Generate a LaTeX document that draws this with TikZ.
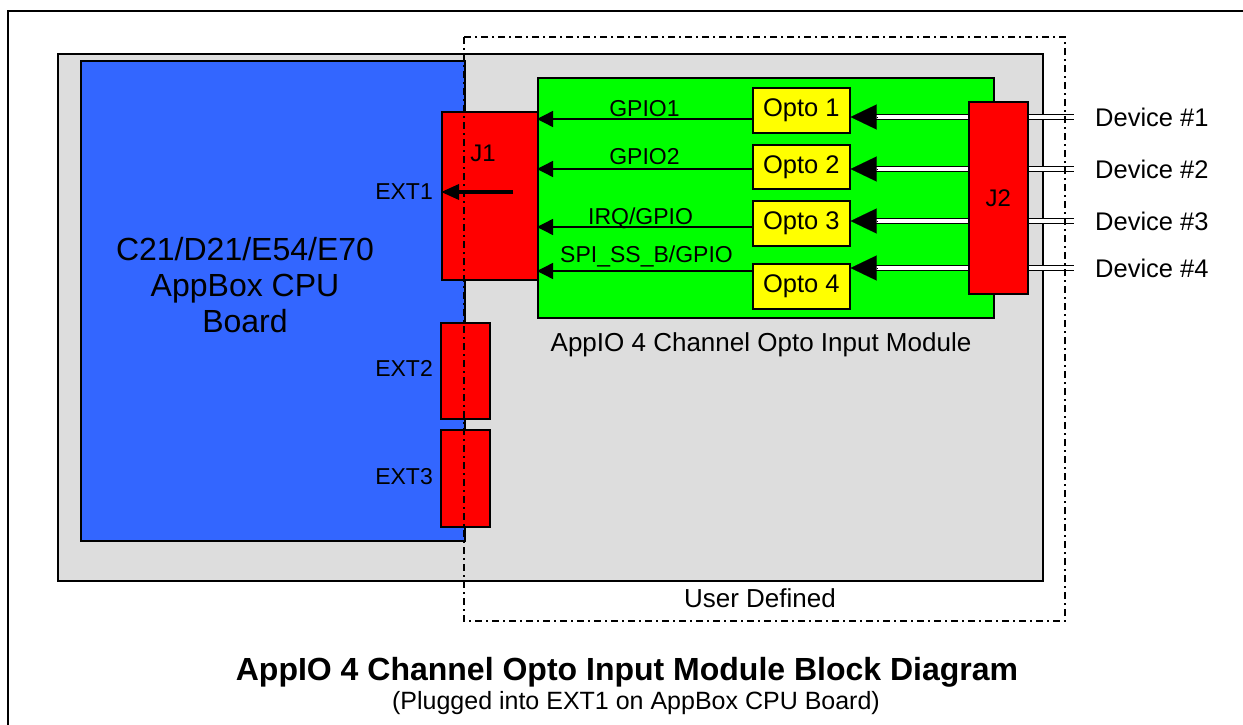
\documentclass[tikz,border=0pt]{standalone}
\usepackage{fontspec}
\setmainfont{Liberation Sans}
\usetikzlibrary{arrows.meta,positioning}
\definecolor{cpublue}{HTML}{3366FF}
\definecolor{modgreen}{HTML}{00FF00}
\definecolor{conred}{HTML}{FF0000}
\definecolor{optoyellow}{HTML}{FFFF00}
\definecolor{boardgray}{HTML}{DDDDDD}
\newcommand{\pxfont}[2]{\fontsize{#1}{#2}\selectfont}
\begin{document}
\begin{tikzpicture}[x=1pt, y=-1pt,
	blk/.style={draw, line width=1.6pt, inner sep=0pt, anchor=north west},
	txt/.style={inner sep=0pt, font=\pxfont{25.5}{30}},
	sig/.style={line width=1.4pt, -{Triangle[length=16pt,width=16pt]}},
	dbl/.style={double, double distance=3.2pt, line width=1.7pt},
	bigtip/.style={line width=0.1pt, -{Triangle[length=26pt,width=25pt]}},
	userbox/.style={line width=1.5pt, dash pattern=on 7pt off 4pt on 2pt off 4pt}]
		\useasboundingbox (0,0) rectangle (1243,725);
		\clip (0,0) rectangle (1243,725);
		\draw[line width=2.5pt] (8,11) rectangle (1300,800);
		% boards
		\node[blk, fill=boardgray, minimum width=985pt, minimum height=527pt] (board) at (57,53) {};
		\node[blk, fill=cpublue, minimum width=384pt, minimum height=480pt] (cpu) at (80,60) {};
		\node[txt, align=center, font=\pxfont{32}{36}] (cpulbl) at (245,285) {C21/D21/E54/E70\\AppBox CPU\\Board};
		\node[blk, fill=modgreen, minimum width=456pt, minimum height=240pt] (module) at (537,77) {};
		\node[txt, font=\pxfont{26}{30}] (modlbl) at (761,345) {AppIO 4 Channel Opto Input Module};
		% connectors
		\node[blk, fill=conred, minimum width=96pt, minimum height=168pt] (j1) at (441,111) {};
		\node[txt, font=\pxfont{24}{28}] (j1lbl) at (483,153) {J1};
		\node[blk, fill=conred, minimum width=49pt, minimum height=96pt] (ext2) at (440,322) {};
		\node[blk, fill=conred, minimum width=49pt, minimum height=97pt] (ext3) at (440,429) {};
		\node[txt, anchor=east, font=\pxfont{23}{27}] (ext1lbl) at (433,192) {EXT1};
		\node[txt, anchor=east, font=\pxfont{23}{27}] (ext2lbl) at (433,368) {EXT2};
		\node[txt, anchor=east, font=\pxfont{23}{27}] (ext3lbl) at (433,477) {EXT3};
		\node[blk, fill=conred, minimum width=59pt, minimum height=192pt, font=\pxfont{24}{28}] (j2) at (968,101) {J2};
		\foreach \i/\y/\h in {1/87/45, 2/144/44, 3/200/45, 4/263/45}
			\node[blk, fill=optoyellow, minimum width=97pt, minimum height=\h pt, font=\pxfont{25.5}{30}] (opto\i) at (752,\y) {Opto \i};
		% signals to J1
		\coordinate (s1) at (0,119);
		\coordinate (s2) at (0,169);
		\coordinate (s3) at (0,227);
		\coordinate (s4) at (0,271);
		\draw[sig] (opto1.west |- s1) -- (module.west |- s1) node[midway, anchor=base, yshift=3pt, inner sep=0pt, font=\pxfont{23}{27}] (gpio1) {GPIO1};
		\draw[sig] (opto2.west |- s2) -- (module.west |- s2) node[midway, anchor=base, yshift=5pt, inner sep=0pt, font=\pxfont{23}{27}] (gpio2) {GPIO2};
		\draw[sig] (opto3.west |- s3) -- (module.west |- s3) node[midway, anchor=base, xshift=-4pt, yshift=3pt, inner sep=0pt, font=\pxfont{23}{27}] (irq) {IRQ/GPIO};
		\draw[sig] (opto4.west |- s4) -- (module.west |- s4) node[midway, anchor=base, xshift=2pt, yshift=9pt, inner sep=0pt, font=\pxfont{23}{27}] (spiss) {SPI\_SS\_B/GPIO};
		\coordinate (ext1src) at (513,192);
		\draw[line width=3.5pt, -{Triangle[length=18pt,width=15pt]}] (ext1src) -- (j1.west |- ext1src);
		% inputs from devices
		\foreach \i/\y in {1/117, 2/169, 3/221, 4/268} {
			\coordinate (in\i) at (0,\y);
			\coordinate (dev\i) at (1074,\y);
			\draw[dbl] (j2.west |- in\i) -- ([xshift=24pt]opto\i.east |- in\i);
			\draw[bigtip] ([xshift=26pt]opto\i.east |- in\i) -- (opto\i.east |- in\i);
			\draw[dbl] (j2.east |- in\i) -- (dev\i);
			\node[txt, anchor=west, xshift=21pt] (device\i) at (dev\i) {Device \#\i};
		}
		% user defined area
		\draw[userbox] (464,37) rectangle (1065,621);
		\node[txt, font=\pxfont{26}{30}] (userlbl) at (760,598) {User Defined};
		% caption
		\node[txt, font=\bfseries\pxfont{32}{36}] (title) at (627,672) {AppIO 4 Channel Opto Input Module Block Diagram};
		\node[txt, font=\pxfont{25}{29}] (subtitle) at (636,703) {(Plugged into EXT1 on AppBox CPU Board)};
	\end{tikzpicture}
\end{document}
